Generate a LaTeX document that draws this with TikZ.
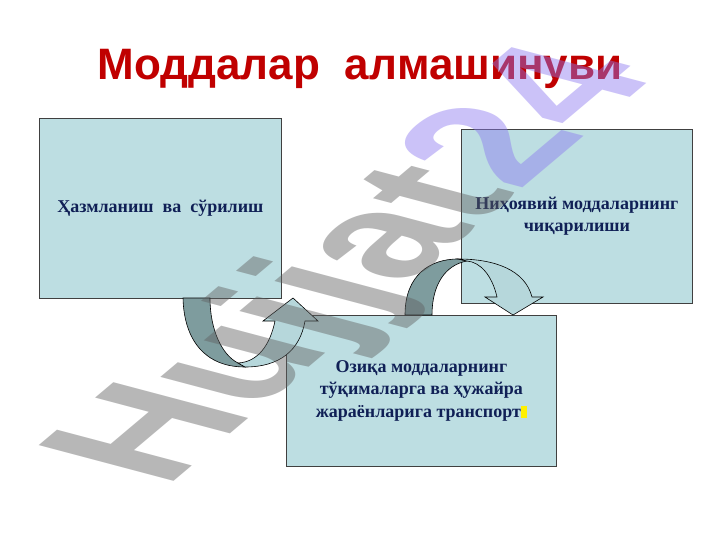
\documentclass[tikz,border=0pt]{standalone}
\usepackage{fontspec}
\setmainfont{Liberation Serif}
\newfontfamily\titlefont{Liberation Sans}
\definecolor{boxfill}{RGB}{189,222,226}
\definecolor{boxline}{RGB}{64,64,64}
\definecolor{arrdark}{RGB}{126,156,158}
\definecolor{arrlight}{RGB}{182,215,219}
\definecolor{txtblue}{RGB}{16,32,86}
\definecolor{titlered}{RGB}{192,0,0}
\definecolor{wmgray}{RGB}{96,96,96}
\definecolor{wmblue}{RGB}{140,120,240}
\definecolor{hlyellow}{RGB}{255,240,0}
\tikzset{
  box/.style={draw=boxline, line width=0.8pt, fill=boxfill, inner sep=0pt, align=center,
              text=txtblue, font=\bfseries\fontsize{18}{22.5}\selectfont, anchor=north west},
  bandback/.style={fill=arrdark, draw=black, line width=0.6pt},
  bandfront/.style={fill=arrlight, draw=black, line width=0.6pt},
}
\begin{document}
\begin{tikzpicture}[x=1pt,y=-1pt]
\useasboundingbox[fill=white] (0,0) rectangle (720,540);

\node[font=\titlefont\bfseries\fontsize{44}{44}\selectfont, text=titlered, anchor=base] (title) at (360,80) {Моддалар\ \ алмашинуви};

\node[box, minimum width=242, minimum height=180] (b1) at (39,118) {Ҳазмланиш\ \ ва\ \ сўрилиш};
\node[box, minimum width=231, minimum height=174] (b2) at (461,129) {Ниҳоявий моддаларнинг\\чиқарилиши};
\node[box, minimum width=270, minimum height=151] (b3) at (286,315) {Озиқа моддаларнинг\\тўқималарга ва ҳужайра\\жараёнларига транспорт\textcolor{hlyellow}{\rule[-0.05em]{0.33em}{0.66em}}};

% left curved arrow (down and up)
\path[bandback] (183,298) .. controls (184,340) and (205,367) .. (245,367)
   -- (238,363) .. controls (222,355) and (210,330) .. (210,298) -- cycle;
\path[bandfront] (238,363) .. controls (258,362) and (270,345) .. (275,321)
   -- (263,321) -- (293,298) -- (318,321) -- (305,321)
   .. controls (300,350) and (280,367) .. (245,367) -- cycle;

% right curved arrow (up and over)
\path[bandback] (405,315) .. controls (405,275) and (430,259) .. (458,259)
   -- (467,261) .. controls (445,265) and (432,285) .. (432,315) -- cycle;
\path[bandfront] (458,259) .. controls (495,259) and (525,270) .. (532,297)
   -- (543,297) -- (513,315) -- (485,297) -- (497,297)
   .. controls (492,275) and (480,262) .. (467,261) -- cycle;

% watermark
\begin{scope}[cm={1.27,1.07,-1.96,0.52,(165,489)}]
\node[anchor=base west, inner sep=0pt, transform shape, text opacity=0.45,
      font=\titlefont\bfseries\fontsize{100}{100}\selectfont] (wm) at (0,0)
      {\textcolor{wmgray}{Hujjat}\textcolor{wmblue}{24}};
\end{scope}
\end{tikzpicture}
\end{document}
